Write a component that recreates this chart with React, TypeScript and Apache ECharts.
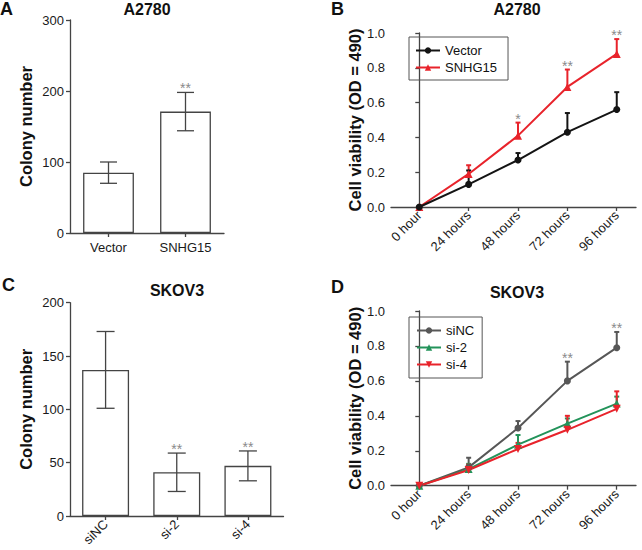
import React, { useEffect, useRef } from 'react';
import * as echarts from 'echarts';

const FONT = '"Liberation Sans", Arial, Helvetica, sans-serif';

// Panel A
const catsA = ['Vector', 'SNHG15'];
const colonyA = [85, 171];
const colonyErrA = [15, 27];
const sigA = ['', '**'];

// Panel C
const catsC = ['siNC', 'si-2', 'si-4'];
const colonyC = [137, 41, 47];
const colonyErrC = [36, 18, 14];
const sigC = ['', '**', '**'];

// Panels B, D
const hours = ['0 hour', '24 hours', '48 hours', '72 hours', '96 hours'];
const vectorB = [0, 0.13, 0.27, 0.43, 0.56];
const vectorErrB = [0, 0.08, 0.04, 0.11, 0.1];
const snhgB = [0, 0.19, 0.41, 0.69, 0.88];
const snhgErrB = [0, 0.05, 0.075, 0.1, 0.085];
const sigB = ['', '', '*', '**', '**'];

const siNCD = [0, 0.105, 0.33, 0.6, 0.79];
const siNCErrD = [0, 0.055, 0.04, 0.11, 0.09];
const si2D = [0, 0.095, 0.235, 0.355, 0.47];
const si2ErrD = [0, 0.03, 0.055, 0.03, 0.04];
const si4D = [0, 0.09, 0.21, 0.32, 0.44];
const si4ErrD = [0, 0.03, 0.035, 0.08, 0.1];
const sigD = ['', '', '', '**', '**'];

const xTickIdx = [0, 1, 2, 3, 4];

const AXIS = '#444';
const BLACK = '#141414';
const RED = '#e8232b';
const GREY = '#575757';
const GREEN = '#23935a';
const STAR = '#8a8a8a';

function errSeries(
  xi: number, yi: number, vals: number[], errs: number[], sigs: string[] | null,
  color: string, capW: number, lw: number, twoSided: boolean, z: number
) {
  return {
    type: 'custom',
    xAxisIndex: xi,
    yAxisIndex: yi,
    z,
    silent: true,
    data: vals.map((v, i) => [i, v, errs[i]]),
    encode: { x: 0, y: 1 },
    renderItem: (params: any, api: any) => {
      const i = api.value(0);
      const v = api.value(1);
      const e = api.value(2);
      const top = api.coord([i, v + e]);
      const base = api.coord([i, twoSided ? v - e : v]);
      const st = { stroke: color, lineWidth: lw };
      const children: any[] = [];
      if (e > 0) {
        children.push({ type: 'line', shape: { x1: top[0], y1: top[1], x2: base[0], y2: base[1] }, style: st });
        children.push({ type: 'line', shape: { x1: top[0] - capW / 2, y1: top[1], x2: top[0] + capW / 2, y2: top[1] }, style: st });
        if (twoSided) {
          children.push({ type: 'line', shape: { x1: base[0] - capW / 2, y1: base[1], x2: base[0] + capW / 2, y2: base[1] }, style: st });
        }
      }
      const s = sigs ? sigs[params.dataIndex] : '';
      if (s) {
        children.push({
          type: 'text',
          x: top[0],
          y: top[1] - 4,
          style: { text: s, fill: STAR, fontSize: 14, fontFamily: FONT, align: 'center', verticalAlign: 'middle' },
        });
      }
      return { type: 'group', children };
    },
  };
}

const axisLineStyle = { color: AXIS, width: 1.3 };

function catX(grid: number, data: string[], rotate: number) {
  return {
    type: 'category',
    gridIndex: grid,
    data,
    axisLine: { show: true, lineStyle: axisLineStyle },
    axisTick: { show: true, alignWithLabel: true, length: 4, lineStyle: axisLineStyle },
    axisLabel: { fontSize: 13, color: '#1a1a1a', fontFamily: FONT, margin: rotate ? 6 : 8, rotate },
    splitLine: { show: false },
  };
}

function timeX(grid: number) {
  return {
    type: 'value',
    gridIndex: grid,
    min: -0.573,
    max: 4.39,
    axisLine: { show: true, onZero: false, lineStyle: axisLineStyle },
    axisTick: { show: true, length: 4, lineStyle: axisLineStyle, customValues: xTickIdx },
    axisLabel: {
      fontSize: 13,
      color: '#1a1a1a',
      fontFamily: FONT,
      rotate: 45,
      margin: 6,
      customValues: xTickIdx,
      formatter: (v: number) => hours[Math.round(v)] ?? '',
    },
    splitLine: { show: false },
  };
}

function valY(grid: number, max: number, interval: number, name: string, nameGap: number, dec: boolean) {
  return {
    type: 'value',
    gridIndex: grid,
    min: 0,
    max,
    interval,
    name,
    nameLocation: 'middle',
    nameGap,
    nameTextStyle: { fontSize: 16.5, fontWeight: 'bold', color: '#111', fontFamily: FONT },
    axisLine: { show: true, lineStyle: axisLineStyle },
    axisTick: { show: true, length: 4, lineStyle: axisLineStyle },
    axisLabel: {
      fontSize: 13,
      color: '#1a1a1a',
      fontFamily: FONT,
      margin: 6,
      formatter: dec ? (v: number) => v.toFixed(1) : (v: number) => String(v),
    },
    splitLine: { show: false },
  };
}

function lineSeries(name: string, xi: number, yi: number, vals: number[], color: string, symbol: string, size: number, z: number, rotate = 0) {
  return {
    type: 'line',
    name,
    xAxisIndex: xi,
    yAxisIndex: yi,
    z,
    data: vals.map((v, i) => [i, v]),
    symbol,
    symbolSize: size,
    symbolRotate: rotate,
    showSymbol: true,
    lineStyle: { color, width: 2 },
    itemStyle: { color },
  };
}

function titleOf(text: string, left: number, top: number, size: number, center: boolean) {
  return {
    text,
    left,
    top,
    padding: 0,
    textAlign: center ? 'center' : 'left',
    textStyle: { fontSize: size, fontWeight: 'bold', color: '#111', fontFamily: FONT },
  };
}

export default function App() {
  const ref = useRef<HTMLDivElement>(null);
  useEffect(() => {
    if (!ref.current) return;
    const chart = echarts.init(ref.current, null, { renderer: 'svg' });
    const legendCommon = {
      orient: 'vertical',
      borderColor: '#555',
      borderWidth: 1,
      itemWidth: 24,
      itemHeight: 8,
      itemGap: 4,
      textStyle: { fontSize: 13, color: '#111', fontFamily: FONT },
      selectedMode: false,
    };
    chart.setOption({
      animation: false,
      backgroundColor: '#fff',
      textStyle: { fontFamily: FONT },
      title: [
        titleOf('A', 0, 0, 18, false),
        titleOf('A2780', 147, 1, 16, true),
        titleOf('B', 331, 0, 18, false),
        titleOf('A2780', 517, 1, 16, true),
        titleOf('C', 2, 276, 18, false),
        titleOf('SKOV3', 177, 282, 16, true),
        titleOf('D', 331, 278, 18, false),
        titleOf('SKOV3', 517, 284, 16, true),
      ],
      grid: [
        { left: 70, top: 20, width: 154, height: 213 },
        { left: 391, top: 33, width: 245, height: 174 },
        { left: 70, top: 302.7, width: 213.5, height: 213.3 },
        { left: 391, top: 311, width: 245, height: 174.7 },
      ],
      xAxis: [catX(0, catsA, 0), timeX(1), catX(2, catsC, 45), timeX(3)],
      yAxis: [
        valY(0, 300, 100, 'Colony number', 36, false),
        valY(1, 1.0, 0.2, 'Cell viability (OD = 490)', 28, true),
        valY(2, 200, 50, 'Colony number', 36, false),
        valY(3, 1.0, 0.2, 'Cell viability (OD = 490)', 28, true),
      ],
      legend: [
        { ...legendCommon, left: 409, top: 37, padding: [7, 11, 6, 6], data: ['Vector', 'SNHG15'] },
        { ...legendCommon, left: 409, top: 317, padding: [7, 8, 7, 7], data: ['siNC', 'si-2', 'si-4'] },
      ],
      series: [
        {
          type: 'bar', xAxisIndex: 0, yAxisIndex: 0, data: colonyA, barWidth: '66%',
          itemStyle: { color: '#fff', borderColor: AXIS, borderWidth: 1.3 }, silent: true,
        },
        errSeries(0, 0, colonyA, colonyErrA, sigA, AXIS, 17, 1.3, true, 5),
        {
          type: 'bar', xAxisIndex: 2, yAxisIndex: 2, data: colonyC, barWidth: '66%',
          itemStyle: { color: '#fff', borderColor: AXIS, borderWidth: 1.3 }, silent: true,
        },
        errSeries(2, 2, colonyC, colonyErrC, sigC, AXIS, 18, 1.3, true, 5),

        errSeries(1, 1, snhgB, snhgErrB, sigB, RED, 5, 2, false, 1),
        errSeries(1, 1, vectorB, vectorErrB, null, BLACK, 5, 2, false, 1),
        lineSeries('SNHG15', 1, 1, snhgB, RED, 'triangle', 8, 2),
        lineSeries('Vector', 1, 1, vectorB, BLACK, 'circle', 7, 3),

        errSeries(3, 3, siNCD, siNCErrD, sigD, GREY, 5, 2, false, 1),
        errSeries(3, 3, si2D, si2ErrD, null, GREEN, 5, 2, false, 1),
        errSeries(3, 3, si4D, si4ErrD, null, RED, 5, 2, false, 1),
        lineSeries('siNC', 3, 3, siNCD, GREY, 'circle', 7, 2),
        lineSeries('si-2', 3, 3, si2D, GREEN, 'triangle', 8, 2),
        lineSeries('si-4', 3, 3, si4D, RED, 'triangle', 8, 2, 180),
      ],
    });
    return () => chart.dispose();
  }, []);
  return <div ref={ref} style={{ position: 'absolute', left: 0, top: 0, width: 642, height: 550 }} />;
}
